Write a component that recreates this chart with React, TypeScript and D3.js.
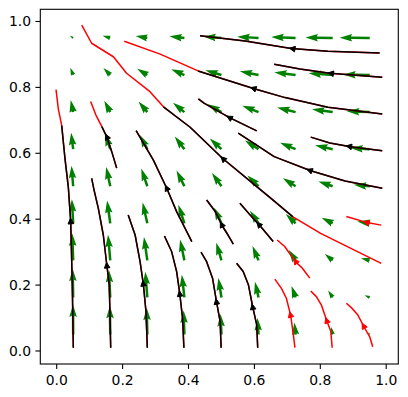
import React from "react";
import * as d3 from "d3";

// Quiver grid (data coordinates)
const gridX = [0.05, 0.1625, 0.275, 0.3875, 0.5, 0.6125, 0.725, 0.8375, 0.95];
const gridY = [0.05, 0.1625, 0.275, 0.3875, 0.5, 0.6125, 0.725, 0.8375, 0.95];

// U[row][col], V[row][col]; row = gridY index (bottom to top)
const U = [
  [-0.005, -0.013, -0.019, -0.025, -0.03, -0.035, -0.039, -0.044, -0.048],
  [-0.017, -0.042, -0.062, -0.08, -0.097, -0.112, -0.128, -0.142, -0.16],
  [-0.029, -0.07, -0.105, -0.135, -0.164, -0.19, -0.216, -0.245, -0.275],
  [-0.041, -0.099, -0.147, -0.19, -0.231, -0.268, -0.305, -0.345, -0.385],
  [-0.053, -0.128, -0.19, -0.246, -0.298, -0.346, -0.395, -0.445, -0.495],
  [-0.065, -0.157, -0.233, -0.301, -0.364, -0.424, -0.485, -0.545, -0.605],
  [-0.077, -0.186, -0.276, -0.356, -0.431, -0.505, -0.575, -0.645, -0.715],
  [-0.089, -0.214, -0.318, -0.411, -0.5, -0.585, -0.665, -0.75, -0.83],
  [-0.101, -0.243, -0.361, -0.467, -0.57, -0.665, -0.76, -0.85, -0.94],
];
const V = [
  [0.94, 0.9, 0.84, 0.751, 0.639, 0.515, 0.379, 0.231, 0.073],
  [0.9, 0.86, 0.8, 0.709, 0.604, 0.487, 0.358, 0.218, 0.069],
  [0.84, 0.8, 0.733, 0.65, 0.553, 0.446, 0.328, 0.2, 0.063],
  [0.751, 0.709, 0.65, 0.576, 0.49, 0.395, 0.291, 0.177, 0.056],
  [0.639, 0.604, 0.553, 0.49, 0.417, 0.337, 0.247, 0.151, 0.048],
  [0.515, 0.487, 0.446, 0.395, 0.337, 0.271, 0.2, 0.122, 0.039],
  [0.379, 0.358, 0.328, 0.291, 0.247, 0.2, 0.147, 0.089, 0.028],
  [0.231, 0.218, 0.2, 0.177, 0.151, 0.122, 0.089, 0.055, 0.017],
  [0.073, 0.069, 0.063, 0.056, 0.048, 0.039, 0.028, 0.017, 0.005],
];

// Streamlines, ordered in flow direction
const lineA = [[0.0504, 0.01], [0.0473, 0.2], [0.0425, 0.392], [0.0352, 0.498], [0.0252, 0.583], [0.0152, 0.684], [0.0049, 0.735], [-0.0021, 0.793]];
const lineB = [[0.1639, 0.01], [0.1596, 0.2], [0.1517, 0.264], [0.1414, 0.352], [0.1263, 0.433], [0.1132, 0.489], [0.1062, 0.524]];
const lineC = [[0.275, 0.01], [0.271, 0.119], [0.263, 0.202], [0.253, 0.271], [0.238, 0.352], [0.217, 0.413]];
const lineD = [[0.386, 0.01], [0.382, 0.099], [0.374, 0.17], [0.364, 0.241], [0.349, 0.301], [0.327, 0.349]];
const lineE = [[0.499, 0.01], [0.496, 0.089], [0.484, 0.155], [0.473, 0.221], [0.455, 0.271], [0.438, 0.3]];
const lineF = [[0.61, 0.01], [0.607, 0.079], [0.594, 0.138], [0.582, 0.2], [0.566, 0.241], [0.546, 0.266]];
const lineG = [[0.723, 0.01], [0.717, 0.059], [0.71, 0.108], [0.697, 0.16], [0.682, 0.19], [0.662, 0.218]];
const lineH = [[0.836, 0.01], [0.832, 0.059], [0.82, 0.091], [0.803, 0.14], [0.788, 0.165], [0.771, 0.182]];
const lineI = [[0.959, 0.013], [0.95, 0.043], [0.935, 0.069], [0.914, 0.109], [0.896, 0.13], [0.879, 0.145]];
const lineJ = [[0.768, 0.221], [0.745, 0.252], [0.727, 0.269], [0.708, 0.294], [0.692, 0.317], [0.669, 0.337]];
const lineU = [[0.657, 0.332], [0.638, 0.355], [0.617, 0.38], [0.587, 0.413], [0.556, 0.448]];
const lineT = [[0.536, 0.324], [0.52, 0.352], [0.504, 0.377], [0.48, 0.425], [0.455, 0.458]];
const lineS = [[0.41, 0.332], [0.364, 0.423], [0.334, 0.494], [0.293, 0.58], [0.241, 0.669]];
const lineV = [[0.182, 0.555], [0.167, 0.605], [0.152, 0.65], [0.137, 0.681], [0.119, 0.716], [0.103, 0.757]];
const lineP = [[0.985, 0.266], [0.902, 0.307], [0.801, 0.357], [0.717, 0.407], [0.654, 0.46], [0.608, 0.498], [0.503, 0.585], [0.405, 0.679], [0.324, 0.741], [0.283, 0.787], [0.212, 0.843], [0.172, 0.893], [0.106, 0.934], [0.076, 0.989]];
const lineM = [[0.988, 0.719], [0.823, 0.74], [0.693, 0.769], [0.602, 0.795], [0.429, 0.85], [0.314, 0.901], [0.205, 0.94]];
const lineK = [[0.98, 0.904], [0.823, 0.91], [0.712, 0.918], [0.572, 0.941], [0.435, 0.957]];
const lineL = [[0.988, 0.831], [0.829, 0.843], [0.738, 0.856], [0.66, 0.87]];
const lineN = [[0.607, 0.668], [0.523, 0.709], [0.447, 0.752], [0.43, 0.765]];
const lineO = [[0.988, 0.608], [0.892, 0.62], [0.829, 0.631], [0.771, 0.649]];
const lineQ = [[0.988, 0.494], [0.875, 0.516], [0.771, 0.547], [0.66, 0.59], [0.551, 0.661]];
const lineR = [[0.985, 0.382], [0.937, 0.391], [0.879, 0.408]];

// black portion index range [from, to] (null = red only)
const streams: { pts: number[][]; black: number[] | null }[] = [
  { pts: lineA, black: [0, 5] },
  { pts: lineB, black: [0, 6] },
  { pts: lineC, black: [0, 5] },
  { pts: lineD, black: [0, 5] },
  { pts: lineE, black: [0, 5] },
  { pts: lineF, black: [0, 5] },
  { pts: lineG, black: null },
  { pts: lineH, black: null },
  { pts: lineI, black: null },
  { pts: lineJ, black: null },
  { pts: lineU, black: [0, 4] },
  { pts: lineT, black: [0, 4] },
  { pts: lineS, black: [0, 4] },
  { pts: lineV, black: [0, 3] },
  { pts: lineP, black: [3, 8] },
  { pts: lineM, black: [0, 4] },
  { pts: lineK, black: [0, 4] },
  { pts: lineL, black: [0, 3] },
  { pts: lineN, black: [0, 3] },
  { pts: lineO, black: [0, 3] },
  { pts: lineQ, black: [0, 4] },
  { pts: lineR, black: null },
];

const xTicks = [0.0, 0.2, 0.4, 0.6, 0.8, 1.0];
const yTicks = [0.0, 0.2, 0.4, 0.6, 0.8, 1.0];

export default function App() {
  const W = 408;
  const H = 397;
  const L = 40.3, R = 398.3, T = 9.3, B = 364;
  const x = d3.scaleLinear().domain([-0.0498, 1.0367]).range([L, R]);
  const y = d3.scaleLinear().domain([-0.0395, 1.037]).range([B, T]);

  const K = 32; // px per unit of field magnitude
  const w = 2.5; // shaft width px

  const quiver: string[] = [];
  gridY.forEach((gy, j) => {
    gridX.forEach((gx, i) => {
      const u = U[j][i];
      const v = V[j][i];
      const px = x(gx);
      const py = y(gy);
      const mag = Math.hypot(u, v);
      const Lw = (mag * K) / w;
      const ang = Math.atan2(-v, u);
      let P: number[][];
      if (Lw >= 5) {
        P = [[0, 0.5], [Lw - 4.5, 0.5], [Lw - 5, 1.5], [Lw, 0], [Lw - 5, -1.5], [Lw - 4.5, -0.5], [0, -0.5]];
      } else if (Lw >= 1) {
        const s = Lw / 5;
        P = [[0, 0.5], [0.5, 0.5], [0, 1.5], [5, 0], [0, -1.5], [0.5, -0.5], [0, -0.5]].map(([a, b]) => [a * s, b * s]);
      } else {
        P = d3.range(6).map((k) => [Math.cos((k * Math.PI) / 3) * 0.5, Math.sin((k * Math.PI) / 3) * 0.5]);
      }
      const c = Math.cos(ang), sn = Math.sin(ang);
      const d = P.map(([a, b]) => {
        const X = px + (a * c - b * sn) * w;
        const Y = py + (a * sn + b * c) * w;
        return `${X.toFixed(2)},${Y.toFixed(2)}`;
      }).join(" ");
      quiver.push(d);
    });
  });

  const line = d3.line<number[]>().x((d) => x(d[0])).y((d) => y(d[1]));

  const arrowHeads = streams.map((s) => {
    const pp = s.pts.map((p) => [x(p[0]), y(p[1])]);
    const cum = [0];
    for (let k = 1; k < pp.length; k++) {
      cum.push(cum[k - 1] + Math.hypot(pp[k][0] - pp[k - 1][0], pp[k][1] - pp[k - 1][1]));
    }
    const half = cum[cum.length - 1] / 2;
    let k = 1;
    while (k < pp.length - 1 && cum[k] < half) k++;
    const t = (half - cum[k - 1]) / (cum[k] - cum[k - 1]);
    const mx = pp[k - 1][0] + t * (pp[k][0] - pp[k - 1][0]);
    const my = pp[k - 1][1] + t * (pp[k][1] - pp[k - 1][1]);
    const dx = pp[k][0] - pp[k - 1][0];
    const dy = pp[k][1] - pp[k - 1][1];
    const len = Math.hypot(dx, dy);
    const ux = dx / len, uy = dy / len;
    const hl = 5.6, hw = 2.8;
    const bx = mx - ux * hl, by = my - uy * hl;
    const pts = [
      [mx, my],
      [bx - uy * hw, by + ux * hw],
      [bx + uy * hw, by - ux * hw],
    ];
    const idx = k - 1 + t;
    const isBlack = s.black !== null && idx >= s.black[0] && idx <= s.black[1];
    return { d: pts.map((p) => `${p[0].toFixed(2)},${p[1].toFixed(2)}`).join(" "), color: isBlack ? "#000000" : "#ff0000" };
  });

  const font = "'DejaVu Sans', sans-serif";

  return (
    <svg width={W} height={H} style={{ position: "absolute", left: 0, top: 0, background: "#fff" }}>
      <rect x={0} y={0} width={W} height={H} fill="#ffffff" />
      <defs>
        <clipPath id="axclip">
          <rect x={L} y={T} width={R - L} height={B - T} />
        </clipPath>
      </defs>
      <g clipPath="url(#axclip)">
        {quiver.map((d, i) => (
          <polygon key={"q" + i} points={d} fill="#008000" />
        ))}
        {streams.map((s, i) => (
          <path key={"r" + i} d={line(s.pts) || ""} fill="none" stroke="#ff0000" strokeWidth={1.5} strokeLinejoin="round" strokeLinecap="butt" />
        ))}
        {streams.map((s, i) =>
          s.black ? (
            <path key={"b" + i} d={line(s.pts.slice(s.black[0], s.black[1] + 1)) || ""} fill="none" stroke="#000000" strokeWidth={1.5} strokeLinejoin="round" strokeLinecap="butt" />
          ) : null
        )}
        {arrowHeads.map((a, i) => (
          <polygon key={"a" + i} points={a.d} fill={a.color} stroke={a.color} strokeWidth={1} strokeLinejoin="miter" />
        ))}
      </g>
      <rect x={L} y={T} width={R - L} height={B - T} fill="none" stroke="#000" strokeWidth={1.1} />
      {xTicks.map((t) => (
        <g key={"xt" + t}>
          <line x1={x(t)} x2={x(t)} y1={B} y2={B + 4.9} stroke="#000" strokeWidth={1.1} />
          <text x={x(t)} y={B + 21} textAnchor="middle" fontFamily={font} fontSize={13.9} fill="#000">
            {t.toFixed(1)}
          </text>
        </g>
      ))}
      {yTicks.map((t) => (
        <g key={"yt" + t}>
          <line x1={L} x2={L - 4.9} y1={y(t)} y2={y(t)} stroke="#000" strokeWidth={1.1} />
          <text x={L - 9.3} y={y(t) + 5} textAnchor="end" fontFamily={font} fontSize={13.9} fill="#000">
            {t.toFixed(1)}
          </text>
        </g>
      ))}
    </svg>
  );
}
